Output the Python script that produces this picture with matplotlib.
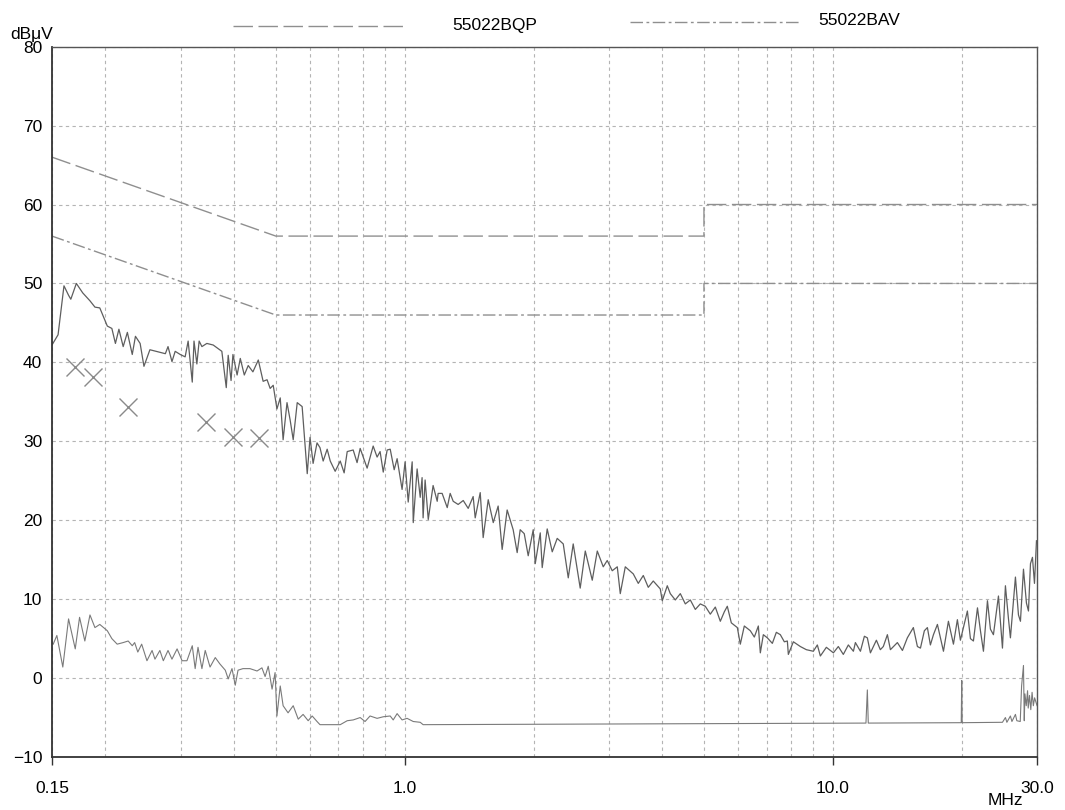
import matplotlib
matplotlib.use("Agg")
import matplotlib.pyplot as plt
from matplotlib.lines import Line2D
from matplotlib.ticker import FixedLocator, NullFormatter

plt.rcParams['font.family'] = ['Liberation Sans', 'DejaVu Sans']

#
# Limit lines (EN 55022 class B)
#
qp_limit_freq = [0.15, 0.5, 5.0, 5.0, 30.0]
qp_limit_level = [66.0, 56.0, 56.0, 60.0, 60.0]
av_limit_freq = [0.15, 0.5, 5.0, 5.0, 30.0]
av_limit_level = [56.0, 46.0, 46.0, 50.0, 50.0]

#
# Peak scan (upper trace), MHz / dBuV
#
peak_freq = [
    0.150, 0.155, 0.160, 0.164, 0.166, 0.171, 0.177, 0.184, 0.189, 0.194,
    0.202, 0.207, 0.211, 0.215, 0.220, 0.225, 0.231, 0.235, 0.241, 0.246,
    0.254, 0.276, 0.280, 0.286, 0.291, 0.299, 0.307, 0.312, 0.319, 0.322,
    0.327, 0.331, 0.336, 0.345, 0.357, 0.374, 0.383, 0.387, 0.393, 0.397,
    0.406, 0.413, 0.422, 0.431, 0.442, 0.455, 0.467, 0.477, 0.485, 0.493,
    0.503, 0.512, 0.520, 0.531, 0.540, 0.549, 0.561, 0.576, 0.592, 0.601,
    0.611, 0.624, 0.634, 0.645, 0.659, 0.670, 0.688, 0.707, 0.722, 0.734,
    0.758, 0.774, 0.787, 0.817, 0.844, 0.862, 0.876, 0.891, 0.910, 0.925,
    0.945, 0.960, 0.986, 1.002, 1.019, 1.041, 1.047, 1.069, 1.087, 1.098,
    1.104, 1.116, 1.135, 1.165, 1.191, 1.197, 1.223, 1.257, 1.277, 1.298,
    1.333, 1.370, 1.407, 1.445, 1.461, 1.501, 1.525, 1.567, 1.610, 1.653,
    1.689, 1.735, 1.792, 1.831, 1.861, 1.902, 1.943, 1.996, 2.018, 2.073,
    2.095, 2.152, 2.211, 2.271, 2.346, 2.410, 2.475, 2.570, 2.641, 2.742,
    2.817, 2.909, 2.972, 3.053, 3.137, 3.188, 3.275, 3.419, 3.512, 3.608,
    3.706, 3.807, 3.953, 3.996, 4.105, 4.172, 4.286, 4.403, 4.523, 4.646,
    4.773, 4.903, 5.036, 5.174, 5.315, 5.460, 5.579, 5.669, 5.793, 5.983,
    6.080, 6.212, 6.416, 6.556, 6.699, 6.771, 6.881, 7.031, 7.223, 7.380,
    7.540, 7.704, 7.830, 7.872, 8.087, 8.397, 8.672, 9.005, 9.201, 9.351,
    9.658, 10.03, 10.30, 10.58, 10.87, 11.17, 11.29, 11.60, 11.85, 12.04,
    12.24, 12.64, 12.91, 13.12, 13.41, 13.63, 14.15, 14.54, 14.93, 15.42,
    15.76, 16.02, 16.36, 16.63, 16.90, 17.18, 17.55, 18.13, 18.62, 19.13,
    19.54, 19.86, 20.19, 20.62, 20.96, 21.30, 21.77, 22.12, 22.48, 22.97,
    23.34, 23.72, 24.37, 24.90, 25.30, 25.72, 25.99, 26.70, 27.14, 27.43,
    27.88, 28.33, 28.64, 28.95, 29.26, 29.58, 29.90,
]
peak_level = [
    42.2, 43.5, 49.7, 48.5, 48.0, 50.0, 48.8, 47.8, 47.0, 46.9,
    44.6, 44.3, 42.4, 44.2, 42.0, 43.8, 41.0, 43.3, 42.4, 39.5,
    41.6, 41.1, 42.0, 40.1, 41.4, 41.0, 40.7, 42.7, 37.5, 42.7,
    39.8, 42.7, 42.0, 42.4, 42.2, 41.4, 36.8, 40.9, 37.7, 41.0,
    38.4, 40.5, 38.4, 39.6, 38.8, 40.3, 37.6, 37.8, 36.7, 37.1,
    34.1, 35.5, 30.2, 34.9, 32.7, 30.2, 34.9, 34.4, 25.9, 30.5,
    27.2, 29.8, 29.2, 27.5, 29.0, 27.5, 26.2, 27.5, 26.0, 28.7,
    28.9, 27.3, 29.1, 26.6, 29.4, 28.0, 28.7, 26.1, 28.9, 29.0,
    26.4, 27.8, 23.9, 27.4, 22.3, 27.4, 19.7, 26.5, 22.9, 25.4,
    20.3, 25.1, 20.1, 24.4, 22.4, 23.4, 23.4, 21.6, 23.4, 22.4,
    22.0, 22.5, 21.5, 23.0, 20.3, 23.5, 17.8, 22.6, 19.7, 21.8,
    16.3, 21.3, 18.8, 15.9, 18.8, 18.3, 15.5, 18.8, 14.5, 18.4,
    14.0, 18.9, 16.0, 17.7, 17.0, 12.7, 17.0, 11.4, 16.1, 12.4,
    16.1, 14.1, 14.9, 13.6, 14.1, 10.7, 14.1, 13.2, 12.0, 13.0,
    11.5, 12.3, 11.3, 9.8, 11.7, 10.7, 9.9, 10.7, 9.4, 9.9,
    8.7, 9.4, 9.1, 8.1, 9.0, 7.2, 8.4, 9.1, 7.0, 6.4,
    4.3, 6.6, 6.0, 5.2, 6.6, 3.2, 5.5, 5.1, 4.4, 5.8,
    5.5, 4.6, 4.7, 3.0, 4.6, 4.0, 3.6, 3.4, 4.2, 2.8,
    3.9, 3.2, 4.0, 3.0, 4.2, 3.4, 4.5, 3.4, 5.3, 5.1,
    3.2, 4.8, 3.6, 4.0, 5.5, 3.6, 4.5, 3.5, 5.1, 6.4,
    4.0, 3.8, 6.0, 6.4, 4.2, 5.5, 6.8, 3.4, 7.2, 4.3,
    7.4, 4.8, 6.4, 8.5, 5.0, 4.7, 8.9, 6.0, 3.4, 9.8,
    6.2, 5.5, 10.4, 3.8, 11.7, 7.5, 5.1, 12.8, 8.0, 7.2,
    13.8, 9.5, 8.5, 14.5, 15.3, 12.0, 17.4,
]

#
# Average scan (lower trace)
#
avg_freq = [
    0.151, 0.154, 0.159, 0.164, 0.170, 0.174, 0.179, 0.184, 0.189, 0.194,
    0.202, 0.207, 0.213, 0.220, 0.226, 0.231, 0.234, 0.238, 0.243, 0.250,
    0.257, 0.261, 0.268, 0.273, 0.280, 0.286, 0.294, 0.302, 0.310, 0.319,
    0.324, 0.329, 0.336, 0.342, 0.351, 0.361, 0.370, 0.381, 0.387, 0.395,
    0.402, 0.408, 0.419, 0.435, 0.452, 0.464, 0.472, 0.480, 0.490, 0.498,
    0.503, 0.512, 0.520, 0.534, 0.549, 0.564, 0.579, 0.595, 0.608, 0.624,
    0.634, 0.707, 0.734, 0.758, 0.787, 0.808, 0.830, 0.862, 0.891, 0.925,
    0.940, 0.960, 0.986, 1.013, 1.047, 1.087, 1.104, 11.95, 12.04, 12.10,
    19.95, 20.00, 20.05, 24.90, 25.30, 25.50, 25.99, 26.20, 26.70, 26.90,
    27.40, 27.60, 27.88, 28.00, 28.10, 28.30, 28.50, 28.60, 28.80, 29.00,
    29.20, 29.40, 29.60, 29.80, 30.00,
]
avg_level = [
    4.3, 5.4, 1.4, 7.5, 3.7, 7.7, 4.7, 8.0, 6.4, 6.8,
    6.0, 5.0, 4.3, 4.5, 4.7, 4.1, 4.5, 3.3, 4.3, 2.2,
    3.5, 2.4, 3.5, 2.2, 3.5, 2.4, 3.7, 2.2, 2.2, 4.1,
    1.2, 3.9, 1.2, 3.5, 1.4, 2.6, 1.8, 1.0, -0.1, 1.2,
    -0.9, 1.0, 1.2, 1.2, 0.9, 1.3, 0.2, 1.5, -1.4, 0.7,
    -4.8, -1.0, -3.5, -4.4, -3.5, -5.2, -4.6, -5.4, -4.8, -5.5,
    -5.9, -5.9, -5.4, -5.3, -5.0, -5.5, -4.8, -5.1, -4.9, -4.8,
    -5.3, -4.5, -5.3, -5.1, -5.5, -5.6, -5.9, -5.7, -1.5, -5.7,
    -5.65, -0.3, -5.65, -5.6, -5.0, -5.6, -4.8, -5.5, -4.6, -5.4,
    -5.5, -1.0, 1.6, -5.4, -2.0, -3.5, -1.6, -3.8, -2.2, -4.0,
    -1.8, -3.5, -2.5, -3.0, -3.5,
]

#
# Quasi-peak final measurements (x markers)
#
qp_meas_freq = [0.170, 0.187, 0.226, 0.343, 0.397, 0.457]
qp_meas_level = [39.4, 38.1, 34.4, 32.5, 30.6, 30.4]

grid_freqs = [0.2, 0.3, 0.4, 0.5, 0.6, 0.7, 0.8, 0.9,
              1, 2, 3, 4, 5, 6, 7, 8, 9, 10, 20]

#
# Make the plot
#
trace_col = '#5e5e5e'
limit_col = '#8f8f8f'
grid_col = '#b4b4b4'

fig = plt.figure(figsize=(10.65, 8.10), dpi=100)
ax = fig.add_axes([0.0488, 0.0654, 0.925, 0.877])

ax.plot(qp_limit_freq, qp_limit_level, color=limit_col, lw=1.0,
        dashes=(14, 4))
ax.plot(av_limit_freq, av_limit_level, color=limit_col, lw=1.0,
        dashes=(9, 2.5, 2, 2.5))
ax.plot(peak_freq, peak_level, color=trace_col, lw=0.9)
ax.plot(avg_freq, avg_level, color='#7a7a7a', lw=0.8)
ax.plot(qp_meas_freq, qp_meas_level, linestyle='None', marker='x',
        markersize=13, mew=1.0, color='#8a8a8a')

ax.set_xscale('log')
ax.set_xlim(0.15, 30)
ax.set_ylim(-10, 80)

ax.xaxis.set_major_locator(FixedLocator([0.15, 1.0, 10.0, 30.0]))
ax.set_xticklabels(['0.15', '1.0', '10.0', '30.0'])
ax.xaxis.set_minor_locator(FixedLocator(grid_freqs))
ax.xaxis.set_minor_formatter(NullFormatter())
ax.set_yticks(range(-10, 81, 10))

ax.tick_params(axis='x', which='major', length=6, width=1, pad=11,
               labelsize=12.5, color='#333333')
ax.tick_params(axis='x', which='minor', length=0)
ax.tick_params(axis='y', length=0, pad=7, labelsize=12.5)

ax.grid(True, which='both', axis='x', color=grid_col, lw=0.8,
        linestyle=(0, (3, 3)))
ax.grid(True, axis='y', color=grid_col, lw=0.8, linestyle=(0, (3, 3)))

for side in ['left', 'bottom']:
    ax.spines[side].set_linewidth(1.3)
    ax.spines[side].set_color('#333333')
for side in ['top', 'right']:
    ax.spines[side].set_linewidth(1.0)
    ax.spines[side].set_color('#555555')

# Unit labels and legend drawn in figure space
fig.text(0.0094, 0.957, 'dB\u03bcV', fontsize=12.5, va='center', ha='left')
fig.text(0.927, 0.012, 'MHz', fontsize=12.5, va='center', ha='left')

fig.add_artist(Line2D([0.219, 0.380], [0.968, 0.968], transform=fig.transFigure,
                      color=limit_col, lw=1.0, dashes=(14, 4)))
fig.text(0.425, 0.969, '55022BQP', fontsize=12.5, va='center', ha='left')
fig.add_artist(Line2D([0.592, 0.751], [0.973, 0.973], transform=fig.transFigure,
                      color=limit_col, lw=1.0, dashes=(9, 2.5, 2, 2.5)))
fig.text(0.768, 0.975, '55022BAV', fontsize=12.5, va='center', ha='left')

fig.savefig('out.png', dpi=100)
